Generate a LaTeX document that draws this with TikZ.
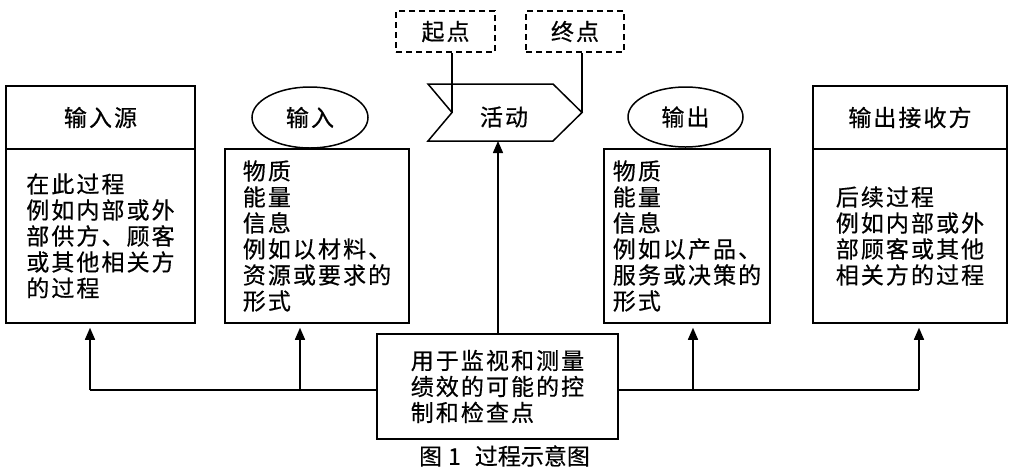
\documentclass[tikz,border=0pt]{standalone}
\usepackage{fontspec}
\newfontfamily\cjk[LetterSpace=9,FakeBold=0.5]{Noto Sans CJK SC}
\newfontfamily\cjkcap[FakeBold=0.3]{Noto Sans CJK SC}
\usetikzlibrary{shapes.geometric,arrows.meta}
\begin{document}
\begin{tikzpicture}[x=1pt,y=-1pt,
  line width=1.5pt,
  txt/.style={font=\cjk\fontsize{23}{26}\selectfont},
  boxn/.style={draw,txt,align=left,inner sep=0pt},
  ell/.style={draw,ellipse,txt,inner sep=0pt},
  dbox/.style={draw,dash pattern=on 6pt off 4pt,txt,inner sep=0pt,minimum width=99pt,minimum height=41pt},
  arr/.style={-{Triangle[length=12pt,width=10pt]}}
]
\useasboundingbox (0,0) rectangle (1010,472);
% input source
\node[boxn,minimum width=189pt,minimum height=63pt] (srchead) at (100.5,117.5) {输入源};
\node[boxn,minimum width=189pt,minimum height=174pt] (srcbody) at (100.5,236) {在此过程\\例如内部或外\\部供方、顾客\\或其他相关方\\的过程};
% input
\node[ell,minimum width=116pt,minimum height=61pt] (inell) at (310,117.5) {输入};
\node[boxn,minimum width=184pt,minimum height=174pt] (inbody) at (317,236) {物质\\能量\\信息\\例如以材料、\\资源或要求的\\形式};
% start / end
\node[dbox] (startb) at (445.5,31.5) {起点};
\node[dbox,minimum width=98pt] (endb) at (575,31.5) {终点};
% activity
\coordinate (aTL) at (428,84);
\coordinate (aTR) at (553,84);
\coordinate (aTip) at (582,112.5);
\coordinate (aBR) at (553,141);
\coordinate (aBL) at (428,141);
\coordinate (aNotch) at (452,112.5);
\draw[line join=miter] (aTL) -- (aTR) -- (aTip) -- (aBR) -- (aBL) -- (aNotch) -- cycle;
\node[txt,inner sep=0pt] (act) at (504,117) {活动};
\coordinate (actbot) at (498,141);
% output
\node[ell,minimum width=115pt,minimum height=60pt] (outell) at (685.5,117) {输出};
\node[boxn,minimum width=166pt,minimum height=174pt] (outbody) at (687,236) {物质\\能量\\信息\\例如以产品、\\服务或决策的\\形式};
% receiver
\node[boxn,minimum width=194pt,minimum height=63pt] (rcvhead) at (910,117.5) {输出接收方};
\node[boxn,minimum width=194pt,minimum height=174pt] (rcvbody) at (910,236) {后续过程\\例如内部或外\\部顾客或其他\\相关方的过程};
% control
\node[boxn,minimum width=241pt,minimum height=105pt] (ctrl) at (497.5,386.5) {用于监视和测量\\绩效的可能的控\\制和检查点};
% caption
\node[font=\cjkcap\fontsize{23}{26}\selectfont,inner sep=0pt] (cap) at (504.5,456) {图\hspace{6pt}1\hspace{14pt}过程示意图};
% connectors
\draw (startb.south -| aNotch) -- (aNotch);
\draw (endb.south -| aTip) -- (aTip);
\draw[arr] (ctrl.north -| actbot) -- (actbot);
\coordinate (bL1) at (90,390);
\coordinate (bL2) at (300,390);
\coordinate (bR1) at (693,390);
\coordinate (bR2) at (919,390);
\draw (ctrl.west |- bL1) -- (bL1);
\draw (ctrl.east |- bR2) -- (bR2);
\draw[arr,shorten >=4pt] (bL1) -- (bL1 |- srcbody.south);
\draw[arr,shorten >=4pt] (bL2) -- (bL2 |- inbody.south);
\draw[arr,shorten >=4pt] (bR1) -- (bR1 |- outbody.south);
\draw[arr,shorten >=4pt] (bR2) -- (bR2 |- rcvbody.south);
\end{tikzpicture}
\end{document}
